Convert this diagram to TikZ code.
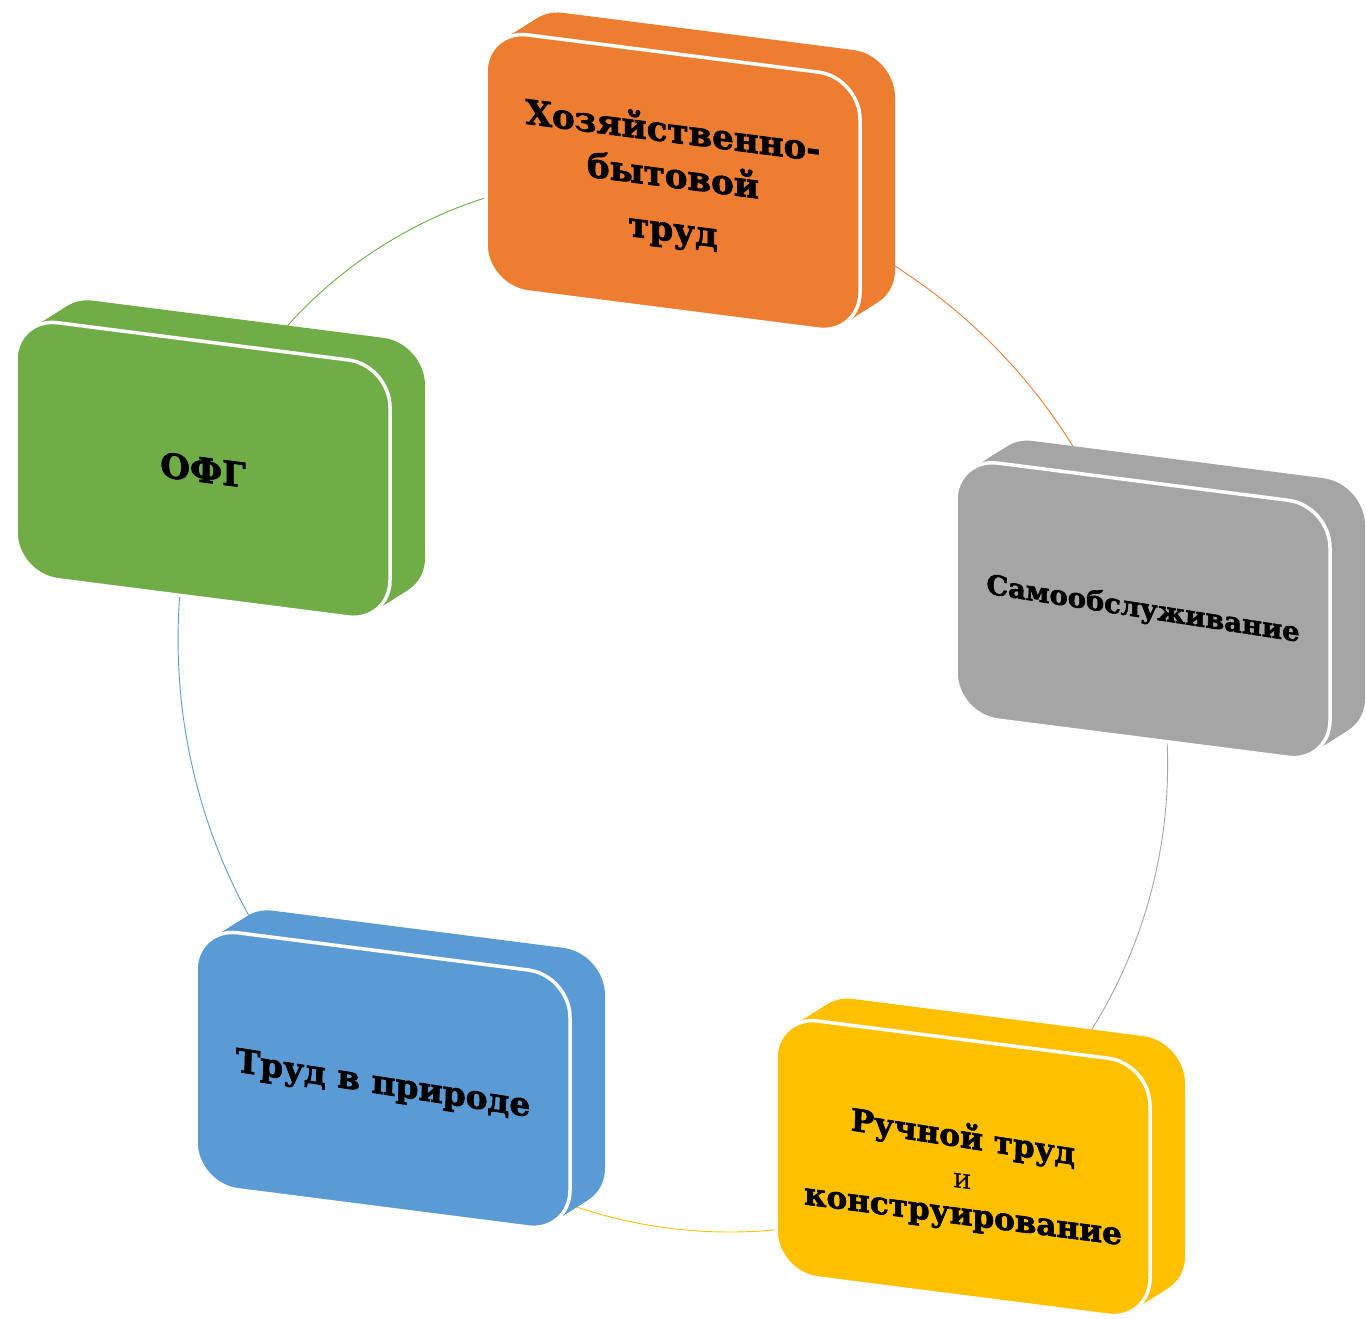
\documentclass[tikz,border=0pt]{standalone}
\usepackage{graphicx}
\usepackage{fontspec}
\setmainfont{DejaVu Serif}[BoldFeatures={FakeBold=2}]
\usetikzlibrary{backgrounds}

\definecolor{boxorange}{HTML}{ED7D31}
\definecolor{boxgray}{HTML}{A5A5A5}
\definecolor{boxgold}{HTML}{FFC000}
\definecolor{boxblue}{HTML}{5B9BD5}
\definecolor{boxgreen}{HTML}{70AD47}

\tikzstyle{front} = [rectangle, rounded corners=42pt, minimum width=374pt, minimum height=257pt, inner sep=0pt, text centered, align=center, draw=white, line width=3.5pt, transform shape]
\tikzstyle{cycleline} = [line width=0.9pt, looseness=0.94]

% side of a box: copies of the face pushed back
\newcommand{\extrude}[2]{%
  \begin{scope}[shift={#1}]
    \foreach \t in {0,1,...,20}
      \fill[#2, rounded corners=42pt] (-187+1.75*\t,-128.5+1.33*\t) rectangle ++(374,257);
  \end{scope}}

\begin{document}
\begin{tikzpicture}[x=1pt, y=1pt]
  \useasboundingbox (0,0) rectangle (1366,-1318);
  \begin{scope}[shift={(673,-702)}, yslant=-0.128]
    \extrude{(0,520)}{boxorange}
    \node (hoz) [front, fill=boxorange, font=\fontsize{34}{45}\selectfont\bfseries] at (0,520) {Хозяйственно-\\бытовой\\[9pt]труд};
    \extrude{(470,152)}{boxgray}
    \node (sam) [front, fill=boxgray, font=\fontsize{27.3}{36}\selectfont\bfseries] at (470,152) {\rotatebox{-1.5}{Самообслуживание}};
    \extrude{(290,-429)}{boxgold}
    \node (ruch) [front, fill=boxgold, font=\fontsize{31}{40}\selectfont\bfseries] at (290,-429) {\rule{0pt}{40pt}\rotatebox{-1.5}{Ручной труд}\\[4pt]{\mdseries\fontsize{28}{30}\selectfont и}\\[-4pt]конструирование};
    \extrude{(-290,-415)}{boxblue}
    \node (prir) [front, fill=boxblue, font=\fontsize{32.8}{40}\selectfont\bfseries] at (-290,-415) {\rule{0pt}{36pt}\rotatebox{-1.5}{Труд в природе}};
    \extrude{(-470,172)}{boxgreen}
    \node (ofg) [front, fill=boxgreen, font=\fontsize{34}{42}\selectfont\bfseries] at (-470,172) {ОФГ};
  \end{scope}

  \begin{scope}[on background layer]
    \draw [cycleline, boxorange] (hoz.center) to[bend left=33] (sam.center);
    \draw [cycleline, boxgray] (sam.center) to[bend left=36] (ruch.center);
    \draw [cycleline, boxgold] (ruch.center) to[bend left=40] (prir.center);
    \draw [cycleline, boxblue] (prir.center) to[bend left=33] (ofg.center);
    \draw [cycleline, boxgreen] (ofg.center) to[bend left=40] (hoz.center);
  \end{scope}
\end{tikzpicture}
\end{document}
